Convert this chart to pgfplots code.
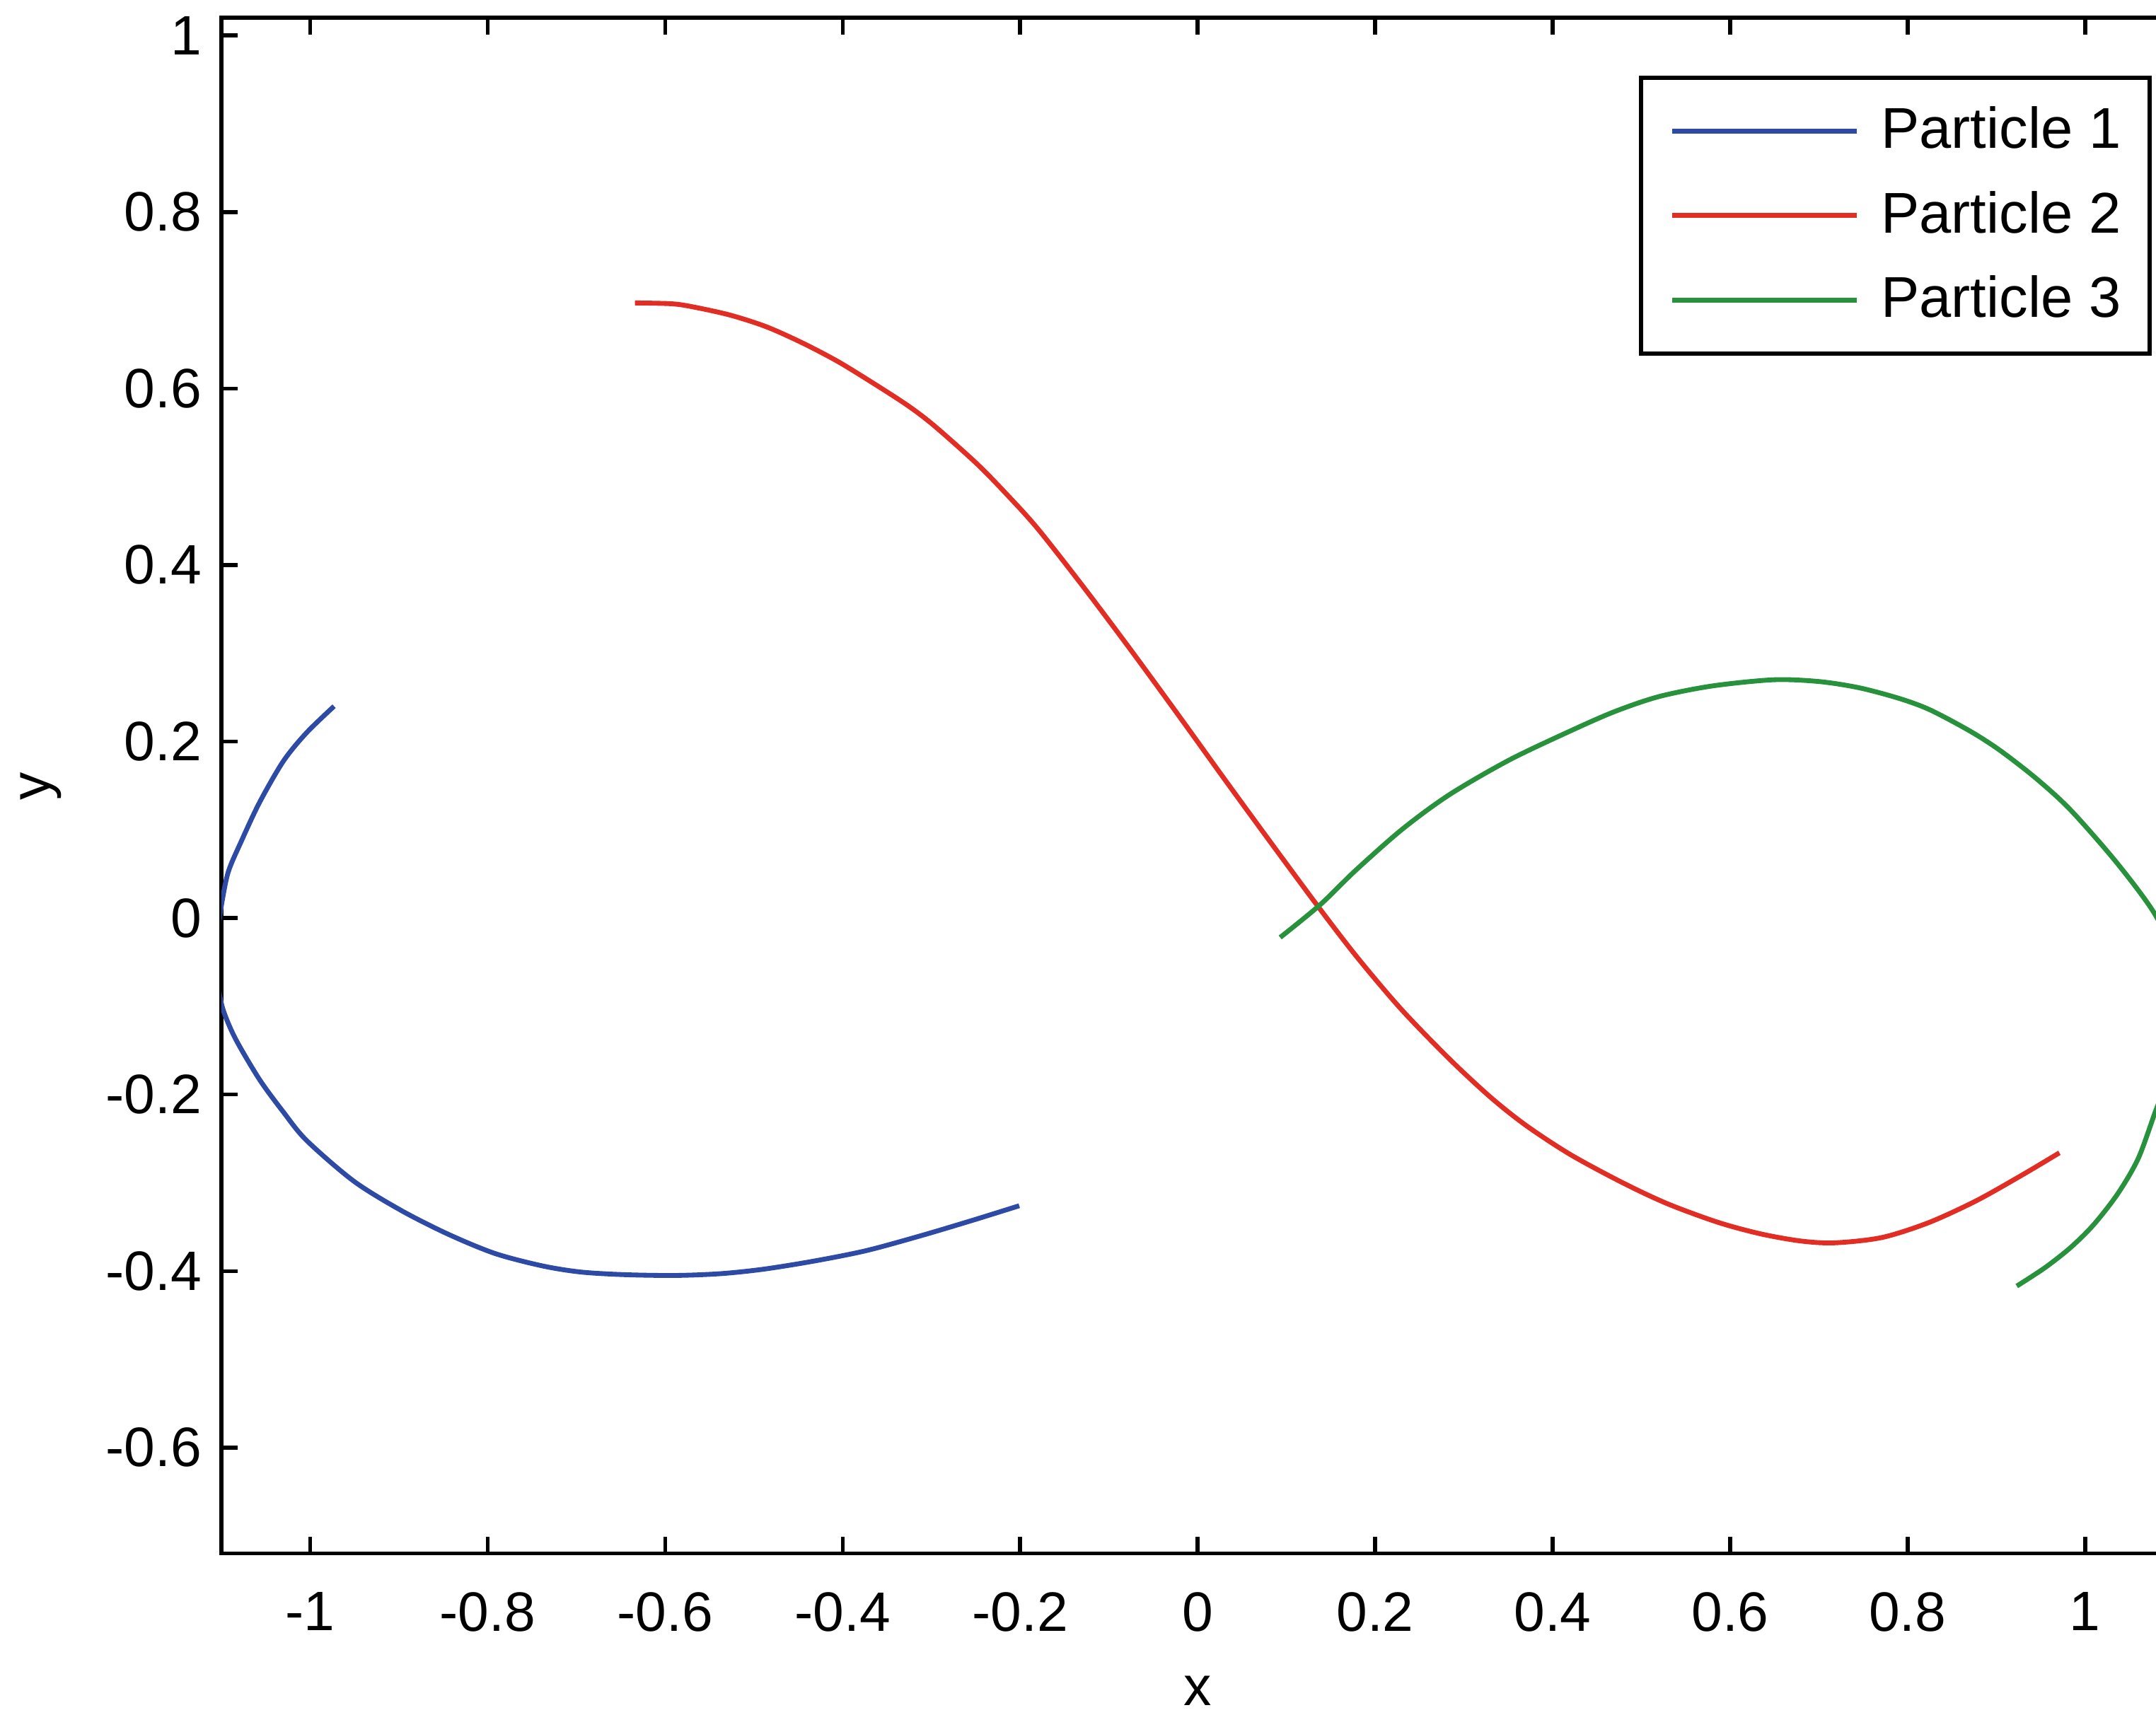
\documentclass[border=0pt]{standalone}
\usepackage{pgfplots}
\pgfplotsset{compat=1.18}
\usepackage{fontspec}
\setmainfont{Liberation Sans}
\definecolor{pblue}{RGB}{45,75,165}
\definecolor{pred}{RGB}{225,45,35}
\definecolor{pgreen}{RGB}{40,145,60}
\begin{document}
\begin{tikzpicture}
\begin{axis}[
  at={(0,0)}, anchor=south west,
  scale only axis,
  width=14.20cm, height=11.17cm,
  xmin=-1.1, xmax=1.1, ymin=-0.72, ymax=1.02,
  xtick={-1,-0.8,-0.6,-0.4,-0.2,0,0.2,0.4,0.6,0.8,1},
  ytick={-0.6,-0.4,-0.2,0,0.2,0.4,0.6,0.8,1},
  tick align=inside,
  major tick length=1.2mm,
  every tick/.style={black, line width=0.8pt},
  axis line style={black, line width=0.85pt},
  /pgf/number format/assume math mode=true,
  tick label style={font=\fontsize{11.5}{13}\selectfont},
  xticklabel style={yshift=-1.6mm},
  yticklabel style={xshift=-0.2mm},
  xlabel={x}, ylabel={y},
  label style={font=\fontsize{11.5}{13}\selectfont},
  xlabel style={at={(axis description cs:0.5,-0.0895)}, anchor=center},
  ylabel style={at={(axis description cs:-0.0923,0.4996)}, anchor=center, rotate=0},
  legend style={
    at={(rel axis cs:0.9887,0.9624)}, anchor=north east,
    draw=black, line width=0.85pt, fill=white,
    inner xsep=2.1mm, inner ysep=2.1mm,
    row sep=2.6mm,
    font=\fontsize{11.9}{13}\selectfont,
    nodes={inner sep=0pt},
    /tikz/every odd column/.append style={column sep=1.6mm},
  },
  legend cell align=left,
  legend image code/.code={\draw[#1, line width=1pt] (0mm,0mm) -- (13.4mm,0mm);},
]
\addplot[pblue, line width=1pt, smooth] coordinates {
(-0.973,0.240) (-1.004,0.210) (-1.030,0.178) (-1.057,0.131) (-1.078,0.086)
(-1.092,0.053) (-1.099,0.020) (-1.104,-0.015) (-1.106,-0.045) (-1.104,-0.075)
(-1.098,-0.104) (-1.084,-0.137) (-1.057,-0.183) (-1.030,-0.220) (-1.004,-0.252)
(-0.951,-0.298) (-0.898,-0.331) (-0.845,-0.358) (-0.792,-0.380) (-0.739,-0.394)
(-0.696,-0.401) (-0.648,-0.404) (-0.590,-0.405) (-0.538,-0.403) (-0.490,-0.398)
(-0.434,-0.389) (-0.374,-0.377) (-0.312,-0.360) (-0.252,-0.342) (-0.201,-0.326)
};
\addlegendentry{Particle 1}
\addplot[pred, line width=1pt, smooth] coordinates {
(-0.634,0.697) (-0.592,0.696) (-0.566,0.692) (-0.526,0.683) (-0.486,0.670)
(-0.446,0.652) (-0.406,0.631) (-0.367,0.607) (-0.327,0.581) (-0.297,0.558)
(-0.249,0.515) (-0.215,0.480) (-0.180,0.441) (-0.127,0.373) (-0.074,0.302)
(-0.021,0.229) (0.032,0.155) (0.085,0.082) (0.138,0.010) (0.181,-0.046)
(0.230,-0.104) (0.284,-0.160) (0.330,-0.203) (0.370,-0.235) (0.420,-0.268)
(0.479,-0.300) (0.530,-0.324) (0.587,-0.345) (0.635,-0.358) (0.680,-0.366)
(0.718,-0.368) (0.771,-0.362) (0.824,-0.345) (0.878,-0.320)
(0.931,-0.290) (0.971,-0.266)
};
\addlegendentry{Particle 2}
\addplot[pgreen, line width=1pt, smooth] coordinates {
(0.093,-0.022) (0.138,0.015) (0.178,0.054) (0.231,0.101) (0.284,0.140)
(0.351,0.179) (0.420,0.212) (0.470,0.234) (0.520,0.251) (0.580,0.263) (0.649,0.270)
(0.700,0.268) (0.745,0.261) (0.790,0.249) (0.825,0.236) (0.870,0.212) (0.904,0.190)
(0.945,0.158) (0.984,0.122) (1.037,0.061) (1.080,0.002) (1.100,-0.050)
(1.107,-0.108) (1.100,-0.165) (1.080,-0.217) (1.060,-0.272) (1.037,-0.312)
(1.010,-0.347) (0.984,-0.373) (0.955,-0.396) (0.923,-0.417)
};
\addlegendentry{Particle 3}
\end{axis}
\pgfresetboundingbox
\path (-1.61cm,-1.17cm) rectangle (14.07cm,11.30cm);
\end{tikzpicture}
\end{document}
